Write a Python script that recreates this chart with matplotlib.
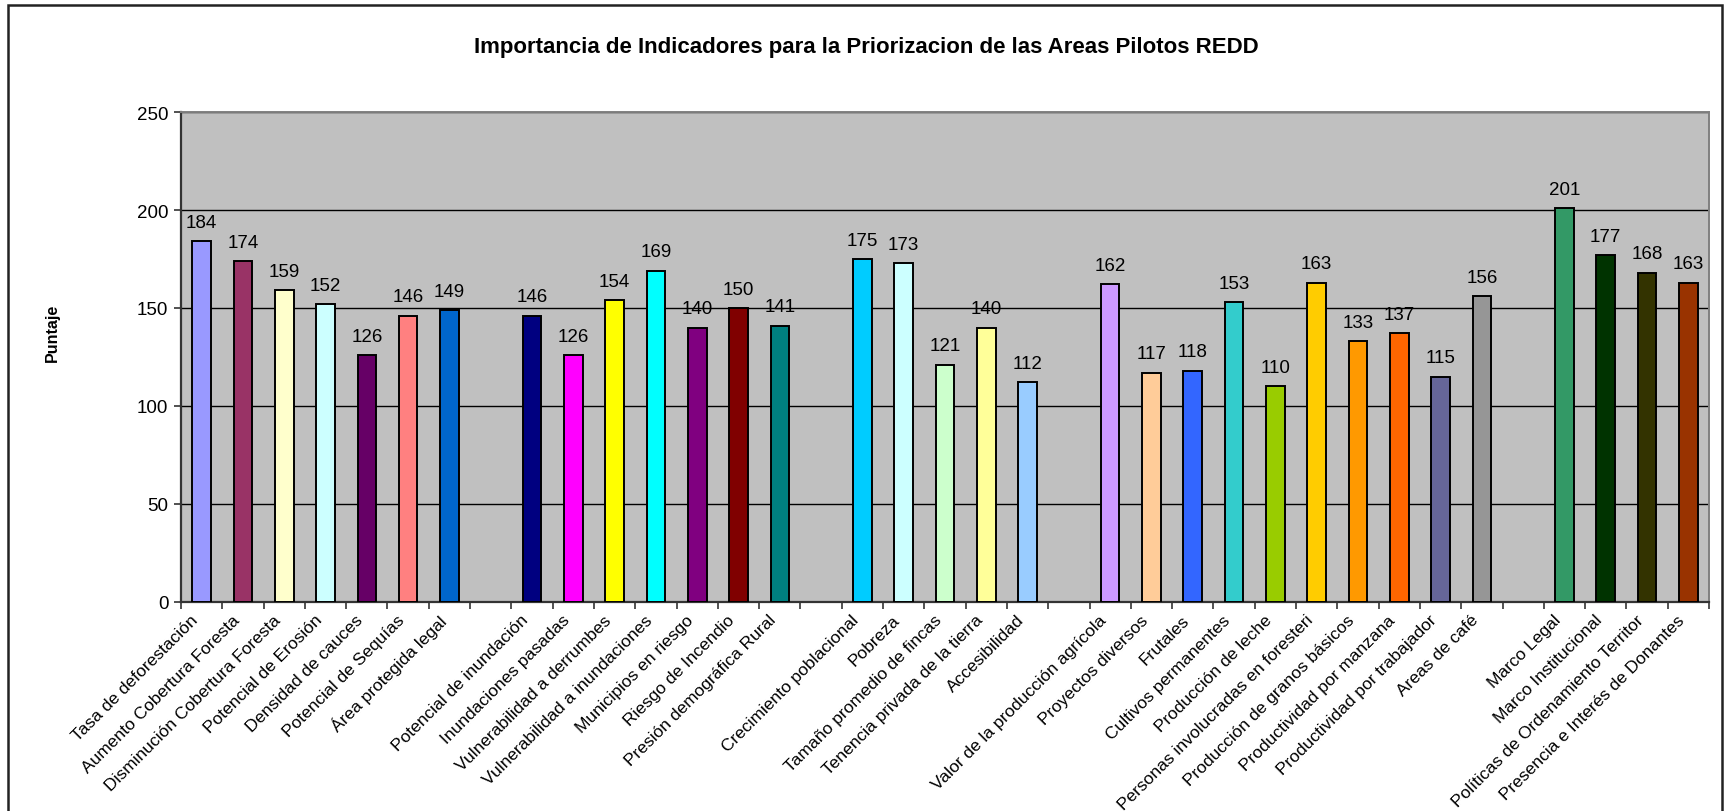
import matplotlib
matplotlib.use("Agg")
import matplotlib.pyplot as plt
from matplotlib.patches import Rectangle
from matplotlib.transforms import ScaledTranslation
import numpy as np

plt.rcParams['font.family'] = ['Liberation Sans', 'DejaVu Sans']

categories = [
    "Tasa de deforestación", "Aumento Cobertura Foresta", "Disminución Cobertura Foresta",
    "Potencial de Erosión", "Densidad de cauces", "Potencial de Sequías", "Área protegida legal",
    "",
    "Potencial de inundación", "Inundaciones pasadas", "Vulnerabilidad a derrumbes",
    "Vulnerabilidad a inundaciones", "Municipios en riesgo", "Riesgo de Incendio",
    "Presión demográfica Rural",
    "",
    "Crecimiento poblacional", "Pobreza", "Tamaño promedio de fincas",
    "Tenencia privada de la tierra", "Accesibilidad",
    "",
    "Valor de la producción agrícola", "Proyectos diversos", "Frutales", "Cultivos permanentes",
    "Producción de leche", "Personas involucradas en foresteri", "Producción de granos básicos",
    "Productividad por manzana", "Productividad por trabajador", "Areas de café",
    "",
    "Marco Legal", "Marco Institucional", "Políticas de Ordenamiento Territor",
    "Presencia e Interés de Donantes",
]

values = [
    184, 174, 159, 152, 126, 146, 149,
    None,
    146, 126, 154, 169, 140, 150, 141,
    None,
    175, 173, 121, 140, 112,
    None,
    162, 117, 118, 153, 110, 163, 133, 137, 115, 156,
    None,
    201, 177, 168, 163,
]

colors = [
    "#9999FF", "#993366", "#FFFFCC", "#CCFFFF", "#660066", "#FF8080", "#0066CC",
    None,
    "#000080", "#FF00FF", "#FFFF00", "#00FFFF", "#800080", "#800000", "#008080",
    None,
    "#00CCFF", "#CCFFFF", "#CCFFCC", "#FFFF99", "#99CCFF",
    None,
    "#CC99FF", "#FFCC99", "#3366FF", "#33CCCC", "#99CC00", "#FFCC00", "#FF9900",
    "#FF6600", "#666699", "#969696",
    None,
    "#339966", "#003300", "#333300", "#993300",
]

title = "Importancia de Indicadores para la Priorizacion de las Areas Pilotos REDD"
ylabel = "Puntaje"
yticks = [0, 50, 100, 150, 200, 250]

W, H = 1727, 812
fig = plt.figure(figsize=(W / 100, H / 100), dpi=100)
fig.patch.set_facecolor("white")

ax = fig.add_axes([181 / W, 1 - 603 / H, (1709 - 181) / W, (603 - 113) / H])
ax.set_facecolor("#C0C0C0")

n = len(categories)
pos = np.arange(n)
bar_pos = [p for p, v in zip(pos, values) if v is not None]
bar_val = [v for v in values if v is not None]
bar_col = [c for c in colors if c is not None]

ax.bar(bar_pos, bar_val, width=0.45, color=bar_col, edgecolor="black",
       linewidth=1.4, zorder=3)

for x, v in zip(bar_pos, bar_val):
    ax.annotate(str(v), (x, v), xytext=(0, 7.5), textcoords="offset points",
                ha="center", va="bottom", fontsize=13.5, color="black", zorder=4)

ax.set_xlim(-0.5, n - 0.5)
ax.set_ylim(0, 250)
ax.set_yticks(yticks)
ax.tick_params(axis="y", labelsize=13.5, length=5, width=1.2, color="#333333", pad=4)
ax.yaxis.grid(True, color="black", linewidth=1.0, zorder=1)
ax.set_axisbelow(True)

# major ticks at category boundaries, minor ticks carry the labels
ax.set_xticks(np.arange(-0.5, n, 1.0))
ax.set_xticklabels([])
ax.tick_params(axis="x", which="major", length=5, width=1.2, color="#333333")
ax.set_xticks(pos, minor=True)
ax.set_xticklabels(categories, minor=True, rotation=45, ha="right", va="center",
                   rotation_mode="anchor", fontsize=12.5)
ax.tick_params(axis="x", which="minor", length=0, pad=11)
shift = ScaledTranslation(-6 / 100, 0, fig.dpi_scale_trans)
for lab in ax.get_xticklabels(minor=True):
    lab.set_transform(lab.get_transform() + shift)

for side in ["left", "bottom"]:
    ax.spines[side].set_color("#333333")
    ax.spines[side].set_linewidth(1.6)
for side in ["top", "right"]:
    ax.spines[side].set_color("#808080")
    ax.spines[side].set_linewidth(1.4)

fig.text(866 / W, 1 - 47 / H, title, ha="center", va="center", fontsize=16,
         fontweight="bold")
fig.text(52 / W, 1 - 333 / H, ylabel, ha="center", va="center", rotation=90,
         fontsize=11.5, fontweight="bold")

border = Rectangle((8 / W, -0.02), (1722 - 8) / W, 1.02 - 6 / H, transform=fig.transFigure,
                   fill=False, edgecolor="#222222", linewidth=1.8, clip_on=False)
fig.patches.append(border)

fig.savefig("out.png", dpi=100)
